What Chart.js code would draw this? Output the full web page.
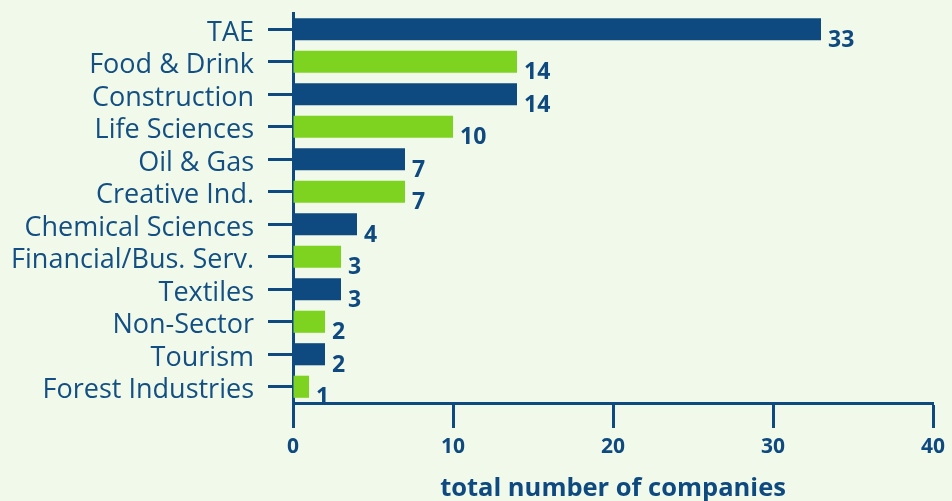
<!DOCTYPE html>
<html>
<head>
<meta charset="utf-8">
<script src="https://cdn.jsdelivr.net/npm/chart.js@4.4.1/dist/chart.umd.min.js"></script>
<style>
    html, body { margin: 0; padding: 0; background: #f1f9ea; }
    #wrap { width: 952px; height: 501px; position: relative; }
</style>
</head>
<body>
<div id="wrap"><canvas id="chart"></canvas></div>
<script>
const sectors = ["TAE", "Food & Drink", "Construction", "Life Sciences", "Oil & Gas", "Creative Ind.",
        "Chemical Sciences", "Financial/Bus. Serv.", "Textiles", "Non-Sector", "Tourism", "Forest Industries"],
    companies = [33, 14, 14, 10, 7, 7, 4, 3, 3, 2, 2, 1],
    xTicks = [0, 10, 20, 30, 40],
    axisTitle = "total number of companies";

const navy = "#0e4a80",
    green = "#7ed321",
    ink = "#134f82";

const barColors = sectors.map((s, i) => i % 2 ? green : navy);

// numbers sit right of each bar, dropped a little below its centre
const valueLabels = {
    id: "valueLabels",
    afterDatasetsDraw(chart) {
        const ctx = chart.ctx;
        ctx.save();
        ctx.font = "bold 23px 'Open Sans'";
        ctx.fillStyle = navy;
        ctx.textAlign = "left";
        ctx.textBaseline = "middle";
        chart.getDatasetMeta(0).data.forEach((bar, i) => {
            ctx.fillText(companies[i], bar.x + 7, bar.y + 11);
        });
        ctx.restore();
    }
};

Chart.defaults.font.family = "'Open Sans'";
Chart.defaults.color = ink;

new Chart(document.getElementById("chart"), {
    type: "bar",
    data: {
        labels: sectors,
        datasets: [{
            data: companies,
            backgroundColor: barColors,
            borderWidth: 0,
            barPercentage: 0.68,
            categoryPercentage: 1,
        }]
    },
    options: {
        indexAxis: "y",
        responsive: true,
        maintainAspectRatio: false,
        animation: false,
        layout: {
            padding: { top: 13, right: 19, left: 0, bottom: 0 }
        },
        plugins: {
            legend: { display: false },
            tooltip: { enabled: false }
        },
        scales: {
            x: {
                min: 0,
                max: 40,
                afterBuildTicks: (scale) => {
                    scale.ticks = xTicks.map(v => ({ value: v }));
                },
                afterFit: (scale) => {
                    scale.height = 98;
                    scale.paddingLeft = 0;
                    scale.paddingRight = 0;
                },
                border: { color: navy, width: 3 },
                grid: {
                    drawOnChartArea: false,
                    tickLength: 25,
                    tickWidth: 3,
                    tickColor: navy
                },
                ticks: {
                    padding: 6,
                    color: navy,
                    font: { size: 21, weight: "bold" }
                },
                title: {
                    display: true,
                    text: axisTitle,
                    color: navy,
                    padding: { top: 0, bottom: 0 },
                    font: { size: 25.5, weight: "bold", lineHeight: 0.95 }
                }
            },
            y: {
                afterFit: (scale) => {
                    scale.width = 293;
                    scale.paddingTop = 0;
                    scale.paddingBottom = 0;
                },
                border: { color: navy, width: 3 },
                grid: {
                    drawOnChartArea: false,
                    offset: false,
                    tickLength: 25,
                    tickWidth: 3,
                    tickColor: navy
                },
                ticks: {
                    autoSkip: false,
                    padding: 14,
                    labelOffset: 4,
                    color: ink,
                    font: { size: 27 }
                }
            }
        }
    },
    plugins: [valueLabels]
});
</script>
</body>
</html>
